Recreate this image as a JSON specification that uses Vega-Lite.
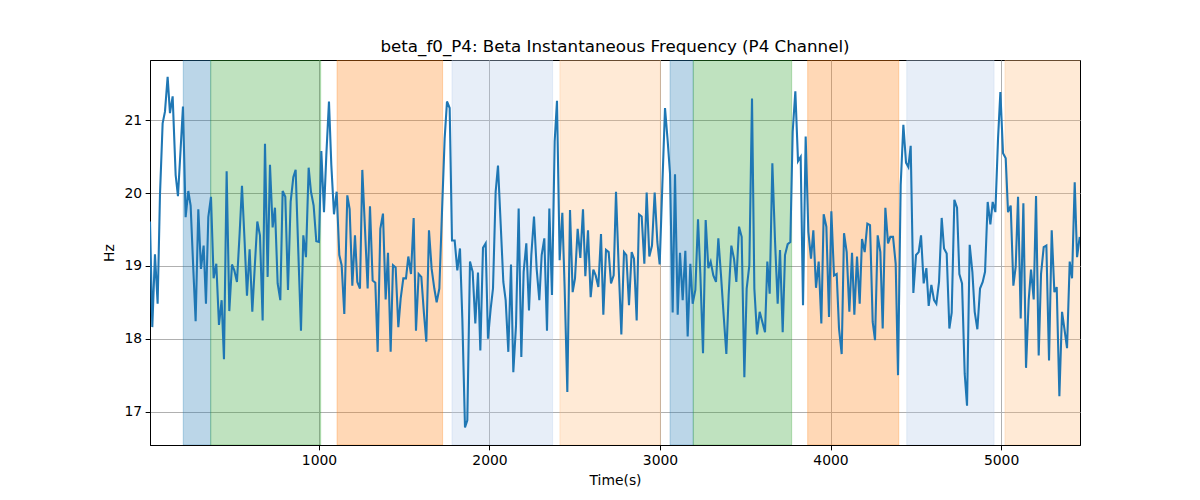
{
"$schema": "https://vega.github.io/schema/vega-lite/v6.json",
"width": 930,
"height": 385,
"autosize": {"type": "none"},
"padding": {"left": 150, "top": 60, "right": 120, "bottom": 55},
"background": "white",
"config": {
  "font": "DejaVu Sans",
  "view": {"stroke": "black", "strokeWidth": 1},
  "axis": {"domainColor": "black", "tickColor": "black", "labelColor": "black", "titleColor": "black", "labelFontSize": 13.9, "titleFontSize": 13.9, "titleFontWeight": "normal", "tickSize": 4.86, "labelPadding": 3.5, "gridColor": "#b0b0b0", "gridWidth": 1, "gridOpacity": 1, "labelFont": "DejaVu Sans", "titleFont": "DejaVu Sans"},
  "title": {"font": "DejaVu Sans", "fontSize": 16.7, "fontWeight": "normal", "color": "black"}
},
"title": {"text": "beta_f0_P4: Beta Instantaneous Frequency (P4 Channel)", "offset": 4},
"datasets": {
  "bands": [
    {"start": 204, "end": 365, "kind": "blue"},
    {"start": 365, "end": 1010, "kind": "green"},
    {"start": 1106, "end": 1725, "kind": "orange"},
    {"start": 1780, "end": 2370, "kind": "lightblue"},
    {"start": 2413, "end": 3002, "kind": "lightorange"},
    {"start": 3059, "end": 3195, "kind": "blue"},
    {"start": 3195, "end": 3772, "kind": "green"},
    {"start": 3866, "end": 4400, "kind": "orange"},
    {"start": 4447, "end": 4959, "kind": "lightblue"},
    {"start": 5023, "end": 5470, "kind": "lightorange"}
  ],
  "sig": [
{"t":9,"v":19.61},{"t":22.5,"v":18.16},{"t":38.1,"v":19.16},{"t":53.8,"v":18.48},{"t":67.4,"v":19.97},{"t":83.1,"v":20.96},{"t":96.8,"v":21.12},{"t":112.4,"v":21.6},{"t":126.1,"v":21.1},{"t":141.8,"v":21.33},{"t":159.4,"v":20.25},{"t":173,"v":19.96},{"t":188.7,"v":20.61},{"t":202.3,"v":21.19},{"t":218,"v":19.67},{"t":233.6,"v":20.03},{"t":247.3,"v":19.83},{"t":262.9,"v":18.96},{"t":276.6,"v":18.24},{"t":292.3,"v":19.78},{"t":307.9,"v":18.96},{"t":323.6,"v":19.28},{"t":337.2,"v":18.48},{"t":350.9,"v":19.67},{"t":366.6,"v":19.95},{"t":382.2,"v":18.83},{"t":397.8,"v":19.03},{"t":413.5,"v":18.19},{"t":429.1,"v":18.53},{"t":442.8,"v":17.72},{"t":458.5,"v":20.3},{"t":474.1,"v":18.38},{"t":489.7,"v":19.02},{"t":503.4,"v":18.94},{"t":519,"v":18.78},{"t":534.7,"v":19.45},{"t":548.4,"v":20.1},
{"t":564,"v":19.33},{"t":577.7,"v":18.59},{"t":593.3,"v":19.23},{"t":609,"v":18.37},{"t":622.7,"v":18.96},{"t":638.3,"v":19.61},{"t":653.9,"v":19.42},{"t":669.6,"v":18.25},{"t":683.3,"v":20.68},{"t":698.9,"v":18.85},{"t":712.6,"v":20.39},{"t":728.2,"v":19.53},{"t":741.9,"v":19.8},{"t":757.6,"v":18.76},{"t":773.2,"v":18.53},{"t":786.9,"v":20.03},{"t":802.5,"v":19.95},{"t":818.2,"v":18.67},{"t":833.8,"v":19.88},{"t":849.5,"v":20.22},{"t":863.1,"v":20.32},{"t":878.8,"v":19.19},{"t":894.4,"v":18.11},{"t":908.1,"v":19.42},{"t":923.7,"v":19.12},{"t":939.4,"v":20.35},{"t":953.1,"v":20.02},{"t":968.7,"v":19.83},{"t":984.3,"v":19.34},{"t":1000,"v":19.33},{"t":1013.7,"v":20.58},{"t":1029.3,"v":19.74},{"t":1043,"v":20.52},{"t":1058.6,"v":21.26},{"t":1072.3,"v":20.39},{"t":1088,"v":19.71},{"t":1103.6,"v":20.02},{"t":1119.2,"v":19.15},
{"t":1132.9,"v":19.01},{"t":1148.5,"v":18.34},{"t":1166.1,"v":19.97},{"t":1179.8,"v":19.78},{"t":1195.5,"v":18.73},{"t":1211.1,"v":19.42},{"t":1224.8,"v":18.78},{"t":1240.4,"v":18.69},{"t":1254.1,"v":20.32},{"t":1269.8,"v":19.51},{"t":1285.4,"v":18.69},{"t":1299.1,"v":19.82},{"t":1314.7,"v":18.8},{"t":1330.4,"v":18.77},{"t":1344.1,"v":17.82},{"t":1359.7,"v":19.51},{"t":1375.3,"v":19.72},{"t":1391,"v":18.54},{"t":1404.7,"v":19.18},{"t":1420.3,"v":17.82},{"t":1434,"v":19.01},{"t":1449.6,"v":18.98},{"t":1465.3,"v":18.16},{"t":1479,"v":18.55},{"t":1494.6,"v":18.83},{"t":1510.2,"v":18.83},{"t":1523.9,"v":19.13},{"t":1539.6,"v":18.89},{"t":1555.2,"v":19.66},{"t":1568.9,"v":18.11},{"t":1584.5,"v":18.89},{"t":1600.2,"v":18.85},{"t":1615.8,"v":18.34},{"t":1629.5,"v":17.96},{"t":1645.1,"v":19.49},{"t":1660.8,"v":18.96},{"t":1676.4,"v":18.69},
{"t":1690.1,"v":18.5},{"t":1705.8,"v":18.69},{"t":1721.4,"v":19.74},{"t":1737,"v":20.75},{"t":1750.7,"v":21.26},{"t":1766.4,"v":21.17},{"t":1780,"v":19.35},{"t":1795.7,"v":19.35},{"t":1811.3,"v":18.94},{"t":1826.9,"v":19.24},{"t":1840.6,"v":18.28},{"t":1856.3,"v":16.78},{"t":1869.9,"v":16.88},{"t":1885.6,"v":19.06},{"t":1901.2,"v":18.92},{"t":1916.8,"v":18.21},{"t":1932.5,"v":18.91},{"t":1946.2,"v":17.84},{"t":1961.8,"v":19.25},{"t":1977.5,"v":19.31},{"t":1991.1,"v":18},{"t":2006.8,"v":18.41},{"t":2020.5,"v":18.69},{"t":2036.1,"v":20.02},{"t":2049.8,"v":20.38},{"t":2065.5,"v":19.58},{"t":2081.1,"v":18.78},{"t":2094.8,"v":18.53},{"t":2110.4,"v":17.82},{"t":2126.1,"v":19.02},{"t":2139.7,"v":17.54},{"t":2155.4,"v":18.18},{"t":2171,"v":19.79},{"t":2186.6,"v":17.75},{"t":2200.3,"v":18.92},{"t":2215.9,"v":19.31},{"t":2231.6,"v":18.39},
{"t":2245.3,"v":19.15},{"t":2261,"v":19.68},{"t":2276.6,"v":18.96},{"t":2292.2,"v":18.53},{"t":2305.9,"v":19.15},{"t":2321.5,"v":19.38},{"t":2337.2,"v":18.11},{"t":2350.9,"v":19.79},{"t":2366.5,"v":18.6},{"t":2382.2,"v":20.71},{"t":2395.8,"v":21.27},{"t":2411.5,"v":19.08},{"t":2427.1,"v":19.73},{"t":2440.8,"v":18.69},{"t":2456.4,"v":17.27},{"t":2472.1,"v":19.77},{"t":2487.7,"v":18.64},{"t":2501.4,"v":18.83},{"t":2517,"v":19.51},{"t":2532.7,"v":19.11},{"t":2548.3,"v":19.78},{"t":2562,"v":18.86},{"t":2577.7,"v":19.49},{"t":2593.3,"v":18.57},{"t":2608.9,"v":18.95},{"t":2622.6,"v":18.87},{"t":2638.3,"v":18.71},{"t":2653.9,"v":19.44},{"t":2667.6,"v":18.33},{"t":2683.2,"v":19.22},{"t":2698.9,"v":19.19},{"t":2712.6,"v":18.76},{"t":2728.2,"v":18.87},{"t":2741.9,"v":20.02},{"t":2757.5,"v":18.99},{"t":2773.2,"v":18.06},{"t":2788.8,"v":19.19},
{"t":2802.5,"v":19.15},{"t":2818.1,"v":18.46},{"t":2833.8,"v":19.19},{"t":2847.4,"v":19.1},{"t":2863.1,"v":18.25},{"t":2876.8,"v":19.71},{"t":2892.4,"v":19.68},{"t":2908.1,"v":19.03},{"t":2921.7,"v":20.01},{"t":2937.4,"v":19.13},{"t":2953,"v":19.28},{"t":2968.7,"v":20.01},{"t":2984.3,"v":19.33},{"t":2998,"v":19.02},{"t":3013.6,"v":20.11},{"t":3029.3,"v":21.17},{"t":3044.9,"v":20.72},{"t":3058.6,"v":20.27},{"t":3074.2,"v":18.36},{"t":3087.9,"v":20.26},{"t":3103.6,"v":18.33},{"t":3117.2,"v":19.18},{"t":3132.9,"v":18.53},{"t":3148.5,"v":19.21},{"t":3162.2,"v":18.03},{"t":3177.8,"v":19.03},{"t":3191.5,"v":18.48},{"t":3207.2,"v":18.67},{"t":3222.8,"v":19.64},{"t":3236.5,"v":18.89},{"t":3252.1,"v":17.8},{"t":3267.8,"v":19.63},{"t":3283.4,"v":18.97},{"t":3297.1,"v":19.06},{"t":3312.7,"v":18.87},{"t":3328.4,"v":18.78},{"t":3342,"v":19.38},
{"t":3357.7,"v":18.87},{"t":3373.3,"v":18.32},{"t":3389,"v":17.79},{"t":3402.6,"v":18.6},{"t":3418.3,"v":19.28},{"t":3433.9,"v":19.1},{"t":3447.6,"v":18.78},{"t":3463.3,"v":19.54},{"t":3478.9,"v":19.4},{"t":3494.6,"v":17.47},{"t":3508.2,"v":18.69},{"t":3523.9,"v":19.01},{"t":3539.5,"v":21.3},{"t":3553.2,"v":18.69},{"t":3568.8,"v":18.06},{"t":3584.5,"v":18.37},{"t":3600.1,"v":18.23},{"t":3615.8,"v":18.09},{"t":3629.4,"v":19.06},{"t":3643.1,"v":18.62},{"t":3658.8,"v":20.41},{"t":3674.4,"v":19.35},{"t":3690,"v":18.48},{"t":3703.7,"v":19.22},{"t":3719.4,"v":18.09},{"t":3733,"v":19.15},{"t":3748.7,"v":19.3},{"t":3764.3,"v":19.33},{"t":3778,"v":20.84},{"t":3793.6,"v":21.4},{"t":3809.3,"v":20.44},{"t":3824.9,"v":20.5},{"t":3838.6,"v":18.46},{"t":3854.2,"v":20.78},{"t":3869.9,"v":19.47},{"t":3885.5,"v":19.1},{"t":3899.2,"v":19.49},
{"t":3914.9,"v":18.7},{"t":3930.5,"v":19.06},{"t":3946.1,"v":18.21},{"t":3959.8,"v":19.71},{"t":3975.5,"v":19.54},{"t":3991.1,"v":18.3},{"t":4004.8,"v":19.75},{"t":4020.4,"v":18.87},{"t":4036.1,"v":18.89},{"t":4049.8,"v":18.14},{"t":4065.4,"v":17.79},{"t":4079.1,"v":19.45},{"t":4094.7,"v":19.19},{"t":4110.4,"v":18.37},{"t":4126,"v":19.18},{"t":4139.7,"v":18.33},{"t":4155.3,"v":19.13},{"t":4171,"v":18.48},{"t":4184.6,"v":19.37},{"t":4200.3,"v":19.19},{"t":4215.9,"v":19.58},{"t":4231.6,"v":19.56},{"t":4247.2,"v":18.23},{"t":4260.9,"v":17.98},{"t":4276.5,"v":19.42},{"t":4292.2,"v":19.19},{"t":4305.9,"v":18.14},{"t":4321.5,"v":19.8},{"t":4337.2,"v":19.31},{"t":4350.8,"v":19.4},{"t":4366.5,"v":19.4},{"t":4382.1,"v":19.03},{"t":4395.8,"v":17.5},{"t":4411.4,"v":20.11},{"t":4427.1,"v":20.94},{"t":4442.7,"v":20.42},{"t":4456.4,"v":20.36},
{"t":4470.1,"v":20.65},{"t":4485.7,"v":18.63},{"t":4501.4,"v":19.15},{"t":4517,"v":19.19},{"t":4530.7,"v":19.42},{"t":4546.3,"v":18.76},{"t":4562,"v":18.97},{"t":4575.7,"v":18.45},{"t":4591.3,"v":18.74},{"t":4607,"v":18.53},{"t":4620.6,"v":18.48},{"t":4636.3,"v":18.78},{"t":4651.9,"v":19.66},{"t":4665.6,"v":19.24},{"t":4681.2,"v":19.17},{"t":4696.9,"v":18.14},{"t":4710.6,"v":18.36},{"t":4726.2,"v":19.91},{"t":4741.9,"v":19.8},{"t":4755.5,"v":18.89},{"t":4771.2,"v":18.76},{"t":4786.8,"v":17.52},{"t":4800.5,"v":17.08},{"t":4816.1,"v":19.29},{"t":4831.8,"v":18.92},{"t":4845.5,"v":18.37},{"t":4861.1,"v":18.13},{"t":4876.8,"v":18.69},{"t":4892.4,"v":18.78},{"t":4906.1,"v":18.92},{"t":4921.7,"v":19.88},{"t":4937.4,"v":19.57},{"t":4951,"v":19.88},{"t":4966.7,"v":19.74},{"t":4982.3,"v":20.75},{"t":4996,"v":21.39},{"t":5011.6,"v":20.55},
{"t":5027.3,"v":20.48},{"t":5040.9,"v":19.74},{"t":5056.6,"v":19.83},{"t":5072.2,"v":18.73},{"t":5085.9,"v":18.99},{"t":5099.6,"v":19.95},{"t":5115.2,"v":18.28},{"t":5130.9,"v":19.86},{"t":5146.5,"v":17.6},{"t":5162.2,"v":18.53},{"t":5175.8,"v":18.95},{"t":5191.5,"v":18.54},{"t":5205.2,"v":19.96},{"t":5220.8,"v":17.77},{"t":5234.5,"v":18.89},{"t":5250.1,"v":19.26},{"t":5265.8,"v":19.28},{"t":5281.4,"v":17.7},{"t":5297.1,"v":19.49},{"t":5312.7,"v":18.64},{"t":5326.4,"v":18.71},{"t":5342.1,"v":17.21},{"t":5357.7,"v":18.37},{"t":5371.4,"v":18.14},{"t":5387,"v":17.87},{"t":5402.7,"v":19.06},{"t":5416.3,"v":18.83},{"t":5432,"v":20.15},{"t":5445.7,"v":19.12},{"t":5461.3,"v":19.4}
  ]
},
"layer": [
  {
    "data": {"name": "bands"},
    "mark": {"type": "rect", "fillOpacity": 0.3, "strokeOpacity": 0.3, "strokeWidth": 1, "clip": true},
    "encoding": {
      "x": {"field": "start", "type": "quantitative", "scale": {"domain": [9, 5463], "nice": false, "zero": false}, "axis": {"title": "Time(s)", "values": [1000, 2000, 3000, 4000, 5000], "format": "d", "titlePadding": 6}},
      "x2": {"field": "end"},
      "fill": {"field": "kind", "type": "nominal", "scale": {"domain": ["blue", "green", "orange", "lightblue", "lightorange"], "range": ["#1f77b4", "#2ca02c", "#ff7f0e", "#aec7e8", "#ffbb78"]}, "legend": null},
      "stroke": {"field": "kind", "type": "nominal", "scale": {"domain": ["blue", "green", "orange", "lightblue", "lightorange"], "range": ["#1f77b4", "#2ca02c", "#ff7f0e", "#aec7e8", "#ffbb78"]}, "legend": null}
    }
  },
  {
    "data": {"name": "sig"},
    "mark": {"type": "line", "color": "#1f77b4", "strokeWidth": 2.08, "clip": true},
    "encoding": {
      "x": {"field": "t", "type": "quantitative"},
      "y": {"field": "v", "type": "quantitative", "scale": {"domain": [16.54, 21.83], "nice": false, "zero": false}, "axis": {"title": "Hz", "values": [17, 18, 19, 20, 21], "titlePadding": 7}}
    }
  }
]
}
